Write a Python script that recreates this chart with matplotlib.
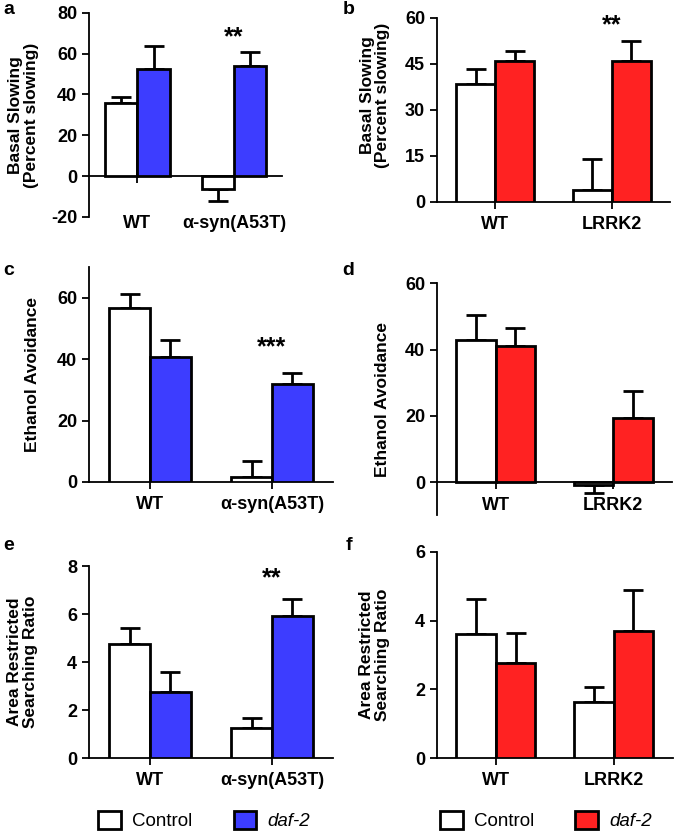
import numpy as np
import matplotlib
matplotlib.use('Agg')
from matplotlib import pyplot as plt
from matplotlib.patches import Patch

plt.rcParams['font.family'] = ['Liberation Sans', 'DejaVu Sans']
plt.rcParams['axes.unicode_minus'] = False

BLUE = '#3d3dff'
RED = '#ff2222'

# group labels
syn_groups = ['WT', 'α-syn(A53T)']
lrrk_groups = ['WT', 'LRRK2']

# a: basal slowing, alpha-syn
a_ctrl = [36.0, -6.4]
a_ctrl_err = [2.9, 5.9]
a_daf = [52.6, 54.0]
a_daf_err = [11.3, 6.8]

# b: basal slowing, LRRK2
b_ctrl = [38.6, 3.8]
b_ctrl_err = [4.9, 10.3]
b_daf = [46.1, 45.9]
b_daf_err = [3.2, 6.6]

# c: ethanol avoidance, alpha-syn
c_ctrl = [56.7, 1.6]
c_ctrl_err = [4.6, 5.2]
c_daf = [40.7, 32.0]
c_daf_err = [5.6, 3.6]

# d: ethanol avoidance, LRRK2
d_ctrl = [42.9, -1.0]
d_ctrl_err = [7.7, 2.3]
d_daf = [41.0, 19.4]
d_daf_err = [5.6, 8.1]

# e: area restricted searching, alpha-syn
e_ctrl = [4.75, 1.25]
e_ctrl_err = [0.68, 0.41]
e_daf = [2.74, 5.9]
e_daf_err = [0.86, 0.73]

# f: area restricted searching, LRRK2
f_ctrl = [3.62, 1.64]
f_ctrl_err = [1.02, 0.42]
f_daf = [2.76, 3.7]
f_daf_err = [0.87, 1.2]

fig = plt.figure(figsize=(6.85, 8.31), dpi=100)


def panel(rect, groups, ctrl, ctrl_err, daf, daf_err, color, ylim, yticks,
          ylabel, letter, stars=None, lab_x=-0.2, lab_y=0.5, pad=5.0):
    ax = fig.add_axes(rect)
    ax.spines['bottom'].set_position(('data', 0))
    x = np.arange(len(groups))
    w = 0.335
    for vals, errs, off, fc in [(ctrl, ctrl_err, -w / 2, 'white'), (daf, daf_err, w / 2, color)]:
        ax.bar(x + off, vals, w, color=fc, edgecolor='black', linewidth=2, zorder=3)
        lo = [e if v < 0 else 0 for v, e in zip(vals, errs)]
        hi = [0 if v < 0 else e for v, e in zip(vals, errs)]
        ax.errorbar(x + off, vals, yerr=[lo, hi], fmt='none', ecolor='black',
                    elinewidth=2, capsize=7.5, capthick=2, zorder=2)
    ax.set_xlim(-0.5, 1.5)
    ax.set_ylim(*ylim)
    ax.set_yticks(yticks)
    ax.set_xticks(x)
    ax.set_xticklabels(groups)
    ax.tick_params(axis='y', labelsize=13, width=1.3, length=5, direction='out')
    ax.tick_params(axis='x', labelsize=13, width=1.3, length=5, direction='out', pad=pad)
    for t in ax.get_yticklabels() + ax.get_xticklabels():
        t.set_fontweight('bold')
    ax.spines['top'].set_visible(False)
    ax.spines['right'].set_visible(False)
    ax.spines['left'].set_linewidth(1.3)
    ax.spines['bottom'].set_linewidth(1.3)
    ax.set_ylabel(ylabel, fontweight='bold', fontsize=12.5, linespacing=1.05)
    ax.yaxis.set_label_coords(lab_x, lab_y)
    if stars:
        ax.text(stars[0], stars[1], stars[2], ha='center', va='center',
                fontsize=18, fontweight='bold')
    fig.text(letter[1], letter[2], letter[0], fontsize=14, fontweight='bold',
             ha='left', va='center')
    return ax


panel([0.130, 0.739, 0.282, 0.2455], syn_groups, a_ctrl, a_ctrl_err, a_daf, a_daf_err,
      BLUE, (-20, 80), [-20, 0, 20, 40, 60, 80], 'Basal Slowing\n(Percent slowing)',
      ('a', 0.005, 0.988), stars=(1, 68, '**'), lab_x=-0.26, pad=23)
panel([0.638, 0.757, 0.340, 0.2214], lrrk_groups, b_ctrl, b_ctrl_err, b_daf, b_daf_err,
      RED, (0, 60), [0, 15, 30, 45, 60], 'Basal Slowing\n(Percent slowing)',
      ('b', 0.500, 0.988), stars=(1, 57.5, '**'), lab_x=-0.20, lab_y=0.58)
panel([0.130, 0.420, 0.356, 0.2587], syn_groups, c_ctrl, c_ctrl_err, c_daf, c_daf_err,
      BLUE, (0, 70), [0, 20, 40, 60], 'Ethanol Avoidance',
      ('c', 0.005, 0.675), stars=(1, 44, '***'))
panel([0.638, 0.380, 0.343, 0.279], lrrk_groups, d_ctrl, d_ctrl_err, d_daf, d_daf_err,
      RED, (-10, 60), [0, 20, 40, 60], 'Ethanol Avoidance',
      ('d', 0.500, 0.675), pad=6)
panel([0.130, 0.0878, 0.356, 0.231], syn_groups, e_ctrl, e_ctrl_err, e_daf, e_daf_err,
      BLUE, (0, 8), [0, 2, 4, 6, 8], 'Area Restricted\nSearching Ratio',
      ('e', 0.005, 0.343), stars=(1, 7.5, '**'), lab_x=-0.21)
panel([0.638, 0.0878, 0.344, 0.248], lrrk_groups, f_ctrl, f_ctrl_err, f_daf, f_daf_err,
      RED, (0, 6), [0, 2, 4, 6], 'Area Restricted\nSearching Ratio',
      ('f', 0.505, 0.343), lab_x=-0.20)

for cx, col in [(0.298, BLUE), (0.797, RED)]:
    handles = [Patch(facecolor='white', edgecolor='black', linewidth=2),
               Patch(facecolor=col, edgecolor='black', linewidth=2)]
    leg = fig.legend(handles, ['Control', 'daf-2'], loc='center', ncol=2,
                     bbox_to_anchor=(cx, 0.013), frameon=False, fontsize=13.5,
                     handlelength=1.2, handleheight=1.1, handletextpad=0.6,
                     columnspacing=2.2)
    leg.get_texts()[1].set_fontstyle('italic')

fig.savefig('out.png', dpi=100)
